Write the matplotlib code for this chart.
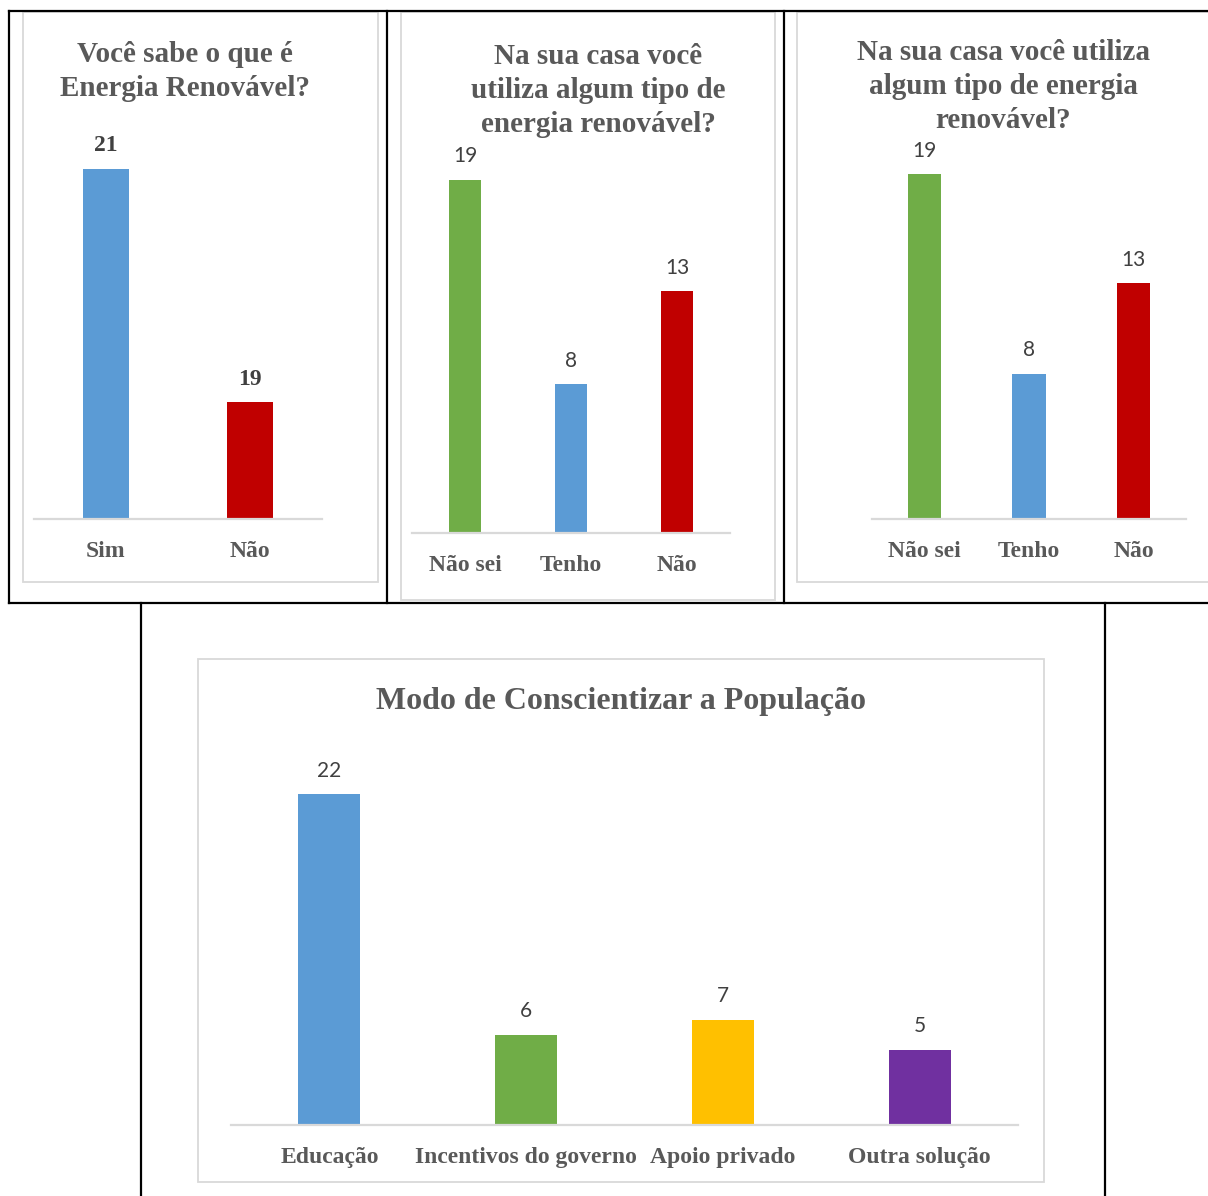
import matplotlib
matplotlib.use('Agg')
import matplotlib.pyplot as plt
import numpy as np
from matplotlib.patches import Rectangle

W, H = 1208, 1196

BLUE = '#5B9BD5'
RED = '#C00000'
GREEN = '#70AD47'
YELLOW = '#FFC000'
PURPLE = '#7030A0'
TEXT_GRAY = '#595959'
VALUE_GRAY = '#404040'
FRAME_GRAY = '#d9d9d9'

# data
q1_title = ['Você sabe o que é', 'Energia Renovável?']
q1_cats = ['Sim', 'Não']
q1_vals = [21, 19]

q2_title = ['Na sua casa você', 'utiliza algum tipo de', 'energia renovável?']
q2_cats = ['Não sei', 'Tenho', 'Não']
q2_vals = [19, 8, 13]

q3_title = ['Na sua casa você utiliza', 'algum tipo de energia', 'renovável?']
q3_cats = ['Não sei', 'Tenho', 'Não']
q3_vals = [19, 8, 13]

q4_title = ['Modo de Conscientizar a População']
q4_cats = ['Educação', 'Incentivos do governo', 'Apoio privado', 'Outra solução']
q4_vals = [22, 6, 7, 5]

SERIF = 'Liberation Serif'
SANS = 'Lato'


def px_box(x0, x1, ytop, ybot):
    return [x0 / W, 1 - ybot / H, (x1 - x0) / W, (ybot - ytop) / H]


def draw_title(fig, lines, xc, ys, size):
    for line, y in zip(lines, ys):
        fig.text(xc / W, 1 - y / H, line, ha='center', va='center', fontsize=size,
                 fontfamily=SERIF, fontweight='bold', color=TEXT_GRAY)


def bar_panel(fig, box, cats, vals, colors, ylim, width, cat_size, cat_pad,
              val_family, val_weight, val_size):
    ax = fig.add_axes(px_box(*box))
    ax.patch.set_alpha(0)
    x = np.arange(len(cats))
    bars = ax.bar(x, vals, width=width, color=colors, zorder=2)
    ax.set_xlim(-0.5, len(cats) - 0.5)
    ax.set_ylim(*ylim)
    for side in ['top', 'left', 'right']:
        ax.spines[side].set_visible(False)
    ax.spines['bottom'].set_color(FRAME_GRAY)
    ax.spines['bottom'].set_linewidth(1.6)
    ax.spines['bottom'].set_zorder(3)
    ax.set_yticks([])
    ax.set_xticks(x)
    ax.set_xticklabels(cats, fontsize=cat_size, fontfamily=SERIF,
                       fontweight='bold', color=TEXT_GRAY)
    ax.tick_params(axis='x', length=0, pad=cat_pad)
    for b, v in zip(bars, vals):
        ax.annotate(str(v), (b.get_x() + b.get_width() / 2, v), xytext=(0, 16.8),
                    textcoords='offset points', ha='center', va='center',
                    fontsize=val_size, fontfamily=val_family, fontweight=val_weight,
                    color=VALUE_GRAY, annotation_clip=False)
    return ax


fig = plt.figure(figsize=(W / 100, H / 100), dpi=100)

# table borders and chart frames in pixel coords
bg = fig.add_axes([0, 0, 1, 1])
bg.set_xlim(0, W)
bg.set_ylim(H, 0)
bg.axis('off')
black = dict(color='black', lw=1.6, solid_capstyle='projecting')
bg.plot([9, W], [11, 11], **black)
bg.plot([9, W], [603, 603], **black)
for xv in [9, 387, 784]:
    bg.plot([xv, xv], [11, 603], **black)
for xv in [141, 1105]:
    bg.plot([xv, xv], [603, H], **black)
for (x0, y0, x1, y1) in [(23, 12, 378, 582), (401, 12, 775, 600),
                         (797, 12, 1215, 582), (198, 659, 1044, 1182)]:
    bg.add_patch(Rectangle((x0, y0), x1 - x0, y1 - y0, fill=False,
                           ec=FRAME_GRAY, lw=1.3))

# chart 1
draw_title(fig, q1_title, 185, [55, 89], 21)
bar_panel(fig, (34, 322, 111, 519), q1_cats, q1_vals, [BLUE, RED], (18, 21.5), 0.317,
          17, 15.5, SERIF, 'bold', 17)

# chart 2
draw_title(fig, q2_title, 598, [56, 90, 124], 21)
bar_panel(fig, (412, 730, 161, 533), q2_cats, q2_vals, [GREEN, BLUE, RED], (0, 20), 0.31,
          17, 15.5, SANS, 'normal', 15)

# chart 3
draw_title(fig, q3_title, 1003, [52, 87, 121], 21)
bar_panel(fig, (872, 1186, 156, 519), q3_cats, q3_vals, [GREEN, BLUE, RED], (0, 20), 0.316,
          17, 15.5, SANS, 'normal', 15)

# chart 4
draw_title(fig, q4_title, 621, [702], 23)
bar_panel(fig, (231, 1018, 749, 1125), q4_cats, q4_vals, [BLUE, GREEN, YELLOW, PURPLE],
          (0, 25), 0.315, 17, 15.5, SANS, 'normal', 15)

fig.savefig('out.png', dpi=100)
